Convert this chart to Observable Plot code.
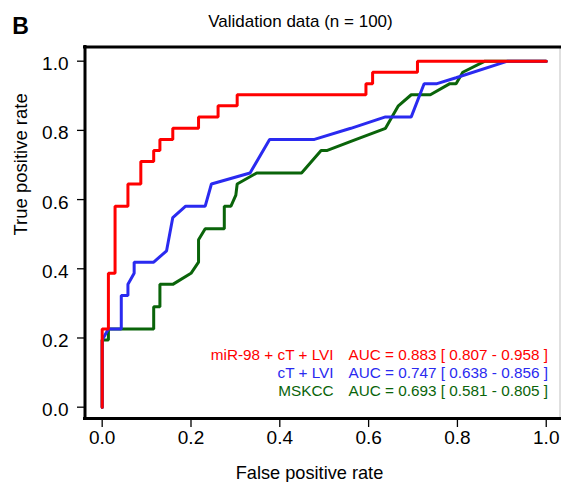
<!DOCTYPE html>
<html>
<head>
<meta charset="utf-8">
<script src="https://cdn.jsdelivr.net/npm/d3@7"></script>
<script src="https://cdn.jsdelivr.net/npm/@observablehq/plot@0.6"></script>
<style>
  body { margin: 0; background: #fff; font-family: "Liberation Sans", Arial, sans-serif; }
  #wrap { position: relative; width: 562px; height: 482px; overflow: hidden; }
  #hdr { position: relative; width: 562px; height: 36px; }
  #panel { position: absolute; left: 12.3px; top: 14.5px; font-size: 23px; line-height: 23px; font-weight: bold; color: #000; }
  #title { position: absolute; left: 300.5px; top: 12.5px; transform: translateX(-50%); font-size: 17px; line-height: 17px; white-space: nowrap; color: #000; }
  #chart { position: absolute; left: 0; top: 36px; }
  #chart svg { display: block; }
</style>
</head>
<body>
<div id="wrap">
  <div id="hdr"><div id="panel">B</div><div id="title">Validation data (n = 100)</div></div>
  <div id="chart"></div>
</div>
<script>
// ---- data ----
const redFPR = [0, 0, 0.014, 0.014, 0.029, 0.029, 0.058, 0.058, 0.087, 0.087, 0.116, 0.116, 0.130, 0.130, 0.159, 0.159, 0.217, 0.217, 0.261, 0.261, 0.304, 0.304, 0.594, 0.594, 0.609, 0.609, 0.710, 0.710, 1];
const redTPR = [0, 0.226, 0.226, 0.387, 0.387, 0.581, 0.581, 0.645, 0.645, 0.710, 0.710, 0.742, 0.742, 0.774, 0.774, 0.806, 0.806, 0.839, 0.839, 0.871, 0.871, 0.903, 0.903, 0.935, 0.935, 0.968, 0.968, 1, 1];

const blueFPR = [0, 0, 0.014, 0.043, 0.043, 0.058, 0.058, 0.072, 0.072, 0.116, 0.145, 0.159, 0.188, 0.232, 0.246, 0.333, 0.377, 0.478, 0.560, 0.638, 0.696, 0.725, 0.754, 0.797, 0.913, 1];
const blueTPR = [0, 0.194, 0.226, 0.226, 0.323, 0.323, 0.355, 0.387, 0.419, 0.419, 0.452, 0.548, 0.581, 0.581, 0.645, 0.677, 0.774, 0.774, 0.806, 0.839, 0.839, 0.935, 0.935, 0.952, 1, 1];

const greenFPR = [0, 0, 0.014, 0.014, 0.116, 0.116, 0.130, 0.130, 0.159, 0.200, 0.217, 0.217, 0.232, 0.275, 0.275, 0.290, 0.301, 0.304, 0.348, 0.449, 0.493, 0.507, 0.572, 0.638, 0.667, 0.696, 0.739, 0.783, 0.797, 0.812, 0.862, 1];
const greenTPR = [0, 0.194, 0.194, 0.226, 0.226, 0.290, 0.290, 0.355, 0.355, 0.387, 0.419, 0.484, 0.516, 0.516, 0.581, 0.581, 0.613, 0.645, 0.677, 0.677, 0.742, 0.742, 0.774, 0.806, 0.871, 0.903, 0.903, 0.935, 0.935, 0.968, 1, 1];

const modelNames = ["miR-98 + cT + LVI", "cT + LVI", "MSKCC"];
const aucValues = [0.883, 0.747, 0.693];
const aucLower = [0.807, 0.638, 0.581];
const aucUpper = [0.958, 0.856, 0.805];
const modelColors = ["#ff0000", "#2a2af0", "#0a640a"];

const tickValues = [0, 0.2, 0.4, 0.6, 0.8, 1.0];
const xLabel = "False positive rate";
const yLabel = "True positive rate";

// ---- build tables ----
const toRows = (fx, fy) => fx.map((x, i) => ({fpr: x, tpr: fy[i]}));
const red = toRows(redFPR, redTPR);
const blue = toRows(blueFPR, blueTPR);
const green = toRows(greenFPR, greenTPR);
const legend = modelNames.map((name, i) => ({
  name,
  color: modelColors[i],
  text: `AUC = ${aucValues[i].toFixed(3)} [ ${aucLower[i].toFixed(3)} - ${aucUpper[i].toFixed(3)} ]`
}));

const xDom = [-0.0387, 1.031];
const yDom = [-0.0327, 1.041];
const font = "Liberation Sans, Arial, sans-serif";

const chart = Plot.plot({
  width: 562,
  height: 446,
  marginLeft: 84.5,
  marginRight: 2.5,
  marginTop: 10.5,
  marginBottom: 64,
  style: {fontFamily: font, fontSize: "19px", color: "#000", background: "#fff"},
  x: {domain: xDom},
  y: {domain: yDom},
  marks: [
    Plot.line(green, {x: "fpr", y: "tpr", stroke: modelColors[2], strokeWidth: 3, strokeLinejoin: "miter"}),
    Plot.line(blue, {x: "fpr", y: "tpr", stroke: modelColors[1], strokeWidth: 3, strokeLinejoin: "miter"}),
    Plot.line(red, {x: "fpr", y: "tpr", stroke: modelColors[0], strokeWidth: 3, strokeLinejoin: "miter"}),
    // frame
    Plot.ruleX([xDom[1]], {stroke: "#cccccc", strokeWidth: 1.2}),
    Plot.ruleY([yDom[0], yDom[1]], {stroke: "#000", strokeWidth: 3, strokeLinecap: "square"}),
    Plot.ruleX([xDom[0]], {stroke: "#000", strokeWidth: 3, strokeLinecap: "square"}),
    // axes
    Plot.axisX({ticks: tickValues, tickFormat: d => d.toFixed(1), tickSize: 9, tickPadding: 3, strokeWidth: 1.3, label: null, fontSize: 19}),
    Plot.axisY({ticks: tickValues, tickFormat: () => "", tickSize: 7.5, strokeWidth: 1.3, label: null}),
    Plot.text(tickValues, {y: d => d, text: d => d.toFixed(1), frameAnchor: "left", textAnchor: "end", dx: -16.5, dy: 3, fontSize: 19, fill: "#000"}),
    // axis titles
    Plot.text([xLabel], {text: d => d, frameAnchor: "bottom", dx: -13, dy: 54.2, lineAnchor: "middle", fontSize: 18.2, fill: "#000"}),
    Plot.text([yLabel], {text: d => d, frameAnchor: "left", rotate: -90, dx: -64.2, dy: 2.75, lineAnchor: "middle", fontSize: 18.5, fill: "#000"}),
    // legend
    Plot.text(legend, {x: 0.521, y: (d, i) => 0.1494 - 0.0516 * i, text: "name", fill: "color", textAnchor: "end", lineAnchor: "middle", fontSize: 15.3}),
    Plot.text(legend, {x: 0.5547, y: (d, i) => 0.1494 - 0.0516 * i, text: "text", fill: "color", textAnchor: "start", lineAnchor: "middle", fontSize: 15.3})
  ]
});
document.getElementById("chart").appendChild(chart);
</script>
</body>
</html>
